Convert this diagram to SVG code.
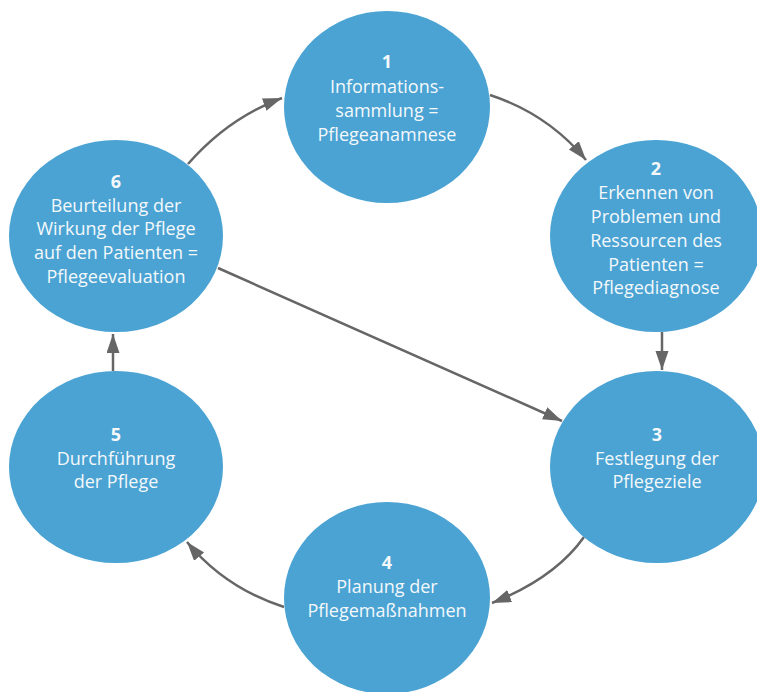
<svg xmlns="http://www.w3.org/2000/svg" width="757" height="692" viewBox="0 0 757 692">
  <style>
    .node { fill: #4AA3D3; }
    .lbl { font-family: "Open Sans", "Liberation Sans", sans-serif; font-size: 18px; fill: #f4f8fb; text-anchor: middle; }
    .num { font-weight: bold; }
    .conn { fill: none; stroke: #666666; stroke-width: 2.5; }
  </style>
  <defs>
    <marker id="arrow" markerUnits="userSpaceOnUse" markerWidth="20" markerHeight="14" refX="19" refY="6.5" orient="auto">
      <path d="M0,0 L19,6.5 L0,13 z" fill="#666666"/>
    </marker>
  </defs>
  <rect width="757" height="692" fill="#ffffff"/>

  <g id="connectors">
    <path class="conn" d="M188,164 Q228,118 282,98" marker-end="url(#arrow)"/>
    <path class="conn" d="M490,95 Q548,114 586,160" marker-end="url(#arrow)"/>
    <path class="conn" d="M662,332 L662,370" marker-end="url(#arrow)"/>
    <path class="conn" d="M584,537 Q555,578 492,603" marker-end="url(#arrow)"/>
    <path class="conn" d="M284,607 Q225,588 187,542" marker-end="url(#arrow)"/>
    <path class="conn" d="M113,371 L113,334" marker-end="url(#arrow)"/>
    <path class="conn" d="M218,268 L562,421" marker-end="url(#arrow)"/>
  </g>

  <g id="node1">
    <ellipse class="node" cx="387" cy="107" rx="103" ry="96"/>
    <text class="lbl num" x="387" y="68">1</text>
    <text class="lbl" x="387" y="93">Informations-</text>
    <text class="lbl" x="387" y="117">sammlung =</text>
    <text class="lbl" x="387" y="141">Pflegeanamnese</text>
  </g>

  <g id="node2">
    <ellipse class="node" cx="656" cy="236" rx="106" ry="96"/>
    <text class="lbl num" x="656" y="175">2</text>
    <text class="lbl" x="656" y="199">Erkennen von</text>
    <text class="lbl" x="656" y="223">Problemen und</text>
    <text class="lbl" x="656" y="247">Ressourcen des</text>
    <text class="lbl" x="656" y="271">Patienten =</text>
    <text class="lbl" x="656" y="294">Pflegediagnose</text>
  </g>

  <g id="node3">
    <ellipse class="node" cx="657" cy="467" rx="107" ry="96"/>
    <text class="lbl num" x="657" y="441">3</text>
    <text class="lbl" x="657" y="465">Festlegung der</text>
    <text class="lbl" x="657" y="488">Pflegeziele</text>
  </g>

  <g id="node4">
    <ellipse class="node" cx="387" cy="598" rx="103" ry="96"/>
    <text class="lbl num" x="387" y="569">4</text>
    <text class="lbl" x="387" y="593">Planung der</text>
    <text class="lbl" x="387" y="617">Pflegemaßnahmen</text>
  </g>

  <g id="node5">
    <ellipse class="node" cx="116" cy="467" rx="107" ry="96"/>
    <text class="lbl num" x="116" y="441">5</text>
    <text class="lbl" x="116" y="465">Durchführung</text>
    <text class="lbl" x="116" y="488">der Pflege</text>
  </g>

  <g id="node6">
    <ellipse class="node" cx="116" cy="236" rx="107" ry="96"/>
    <text class="lbl num" x="116" y="188">6</text>
    <text class="lbl" x="116" y="212">Beurteilung der</text>
    <text class="lbl" x="116" y="235">Wirkung der Pflege</text>
    <text class="lbl" x="116" y="259">auf den Patienten =</text>
    <text class="lbl" x="116" y="283">Pflegeevaluation</text>
  </g>
</svg>
